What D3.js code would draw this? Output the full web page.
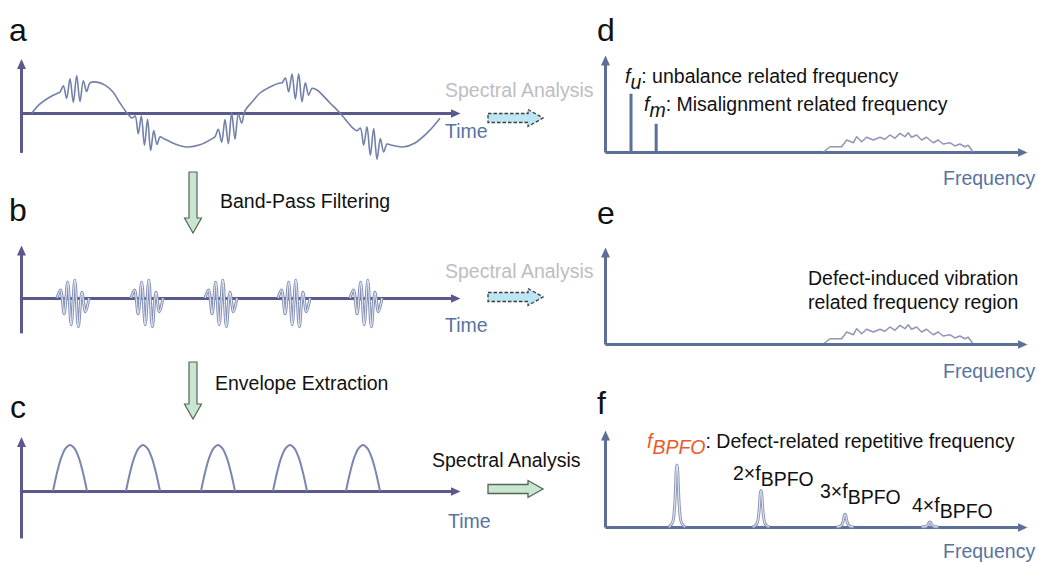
<!DOCTYPE html>
<html>
<head>
<meta charset="UTF-8">
<title>Bearing vibration: band-pass, envelope and spectra</title>
<script src="https://cdn.jsdelivr.net/npm/d3@7"></script>
<style>
    body { margin: 0; background: #fff; }
    text { font-family: "Liberation Sans", Arial, Helvetica, sans-serif; }
    .panel-label { font-size: 32px; fill: #111; }
    .axis-name { font-size: 19.5px; fill: #5873a2; }
    .note { font-size: 19.5px; fill: #111; }
    .faded { font-size: 19.5px; fill: #bdbdc3; }
</style>
</head>
<body>
<svg id="fig" width="1038" height="562"></svg>

<script>
    // ---------- values ----------
    // time in arbitrary units (0..43), amplitude in arbitrary units

    // a: shaft-rate carrier, [t] and [amplitude]
    var carrierT = [1.1, 1.9, 2.9, 3.7, 4.5, 5.4, 6.4, 7.6, 8.4, 9.2, 9.9, 10.6, 11.5, 12.5, 13.4, 14.2, 15.4, 16.6,
        17.9, 19.2, 20.2, 21.2, 22.2, 23.1, 23.9, 24.9, 25.9, 26.8, 27.8, 28.7, 29.6, 30.9, 31.9, 33.2, 34.2, 35.2,
        36.1, 36.9, 38.2, 39.4, 40.7, 41.9];
    var carrierV = [0, 0.3, 0.53, 0.66, 0.78, 0.88, 0.97, 1.02, 0.92, 0.69, 0.33, 0, -0.3, -0.55, -0.72, -0.83, -1.02, -1.12,
        -1.05, -0.83, -0.6, -0.33, 0, 0.36, 0.66, 0.86, 0.99, 1.0, 0.95, 0.86, 0.76, 0.33, 0, -0.5, -0.72, -0.88,
        -0.98, -1.05, -1.12, -0.99, -0.63, -0.17];

    // impact bursts riding on the carrier
    var burstCenterA = [5.4, 12.5, 20.9, 27.6, 35.1];
    var burstWidthA = [3.0, 2.8, 3.0, 3.0, 3.0];
    var burstAmpA = [0.55, 0.6, 0.6, 0.55, 0.6];

    // one burst, normalised samples across its width
    var burstShape = [0, 0.28, -0.55, 0.55, -0.93, 0.62, -1, 0.2, -0.48, 0];

    // b: band-pass filtered bursts
    var burstCenterB = [5.2, 12.6, 20.0, 27.3, 34.5];
    var burstWidthB = 3.2;
    var burstAmpB = 0.95;

    // c: envelope humps
    var humpCenterC = [4.9, 12.2, 19.7, 26.9, 34.2];
    var humpWidthC = 3.4;
    var humpAmpC = 1.52;
    var humpShape = [0, 0.42, 0.74, 0.93, 1, 0.93, 0.74, 0.42, 0];

    // d: rotor spikes (frequency 0..100, amplitude 0..1)
    var spikeFreqD = [6.25, 12.3];
    var spikeAmpD = [0.64, 0.31];

    // d, e: broadband defect-induced region
    var noiseFreq = [52.5, 54.1, 56.9, 58.1, 59.7, 60.5, 61.7, 62.9, 64.5, 66.1, 67.3, 68.5, 69.7, 70.9, 72.1,
        72.9, 73.7, 74.9, 76.1, 77.3, 78.9, 80.1, 81.3, 82.9, 84.1, 85.3, 86.5, 87.3, 88.5];
    var noiseAmp = [0, 0.058, 0.058, 0.132, 0.102, 0.168, 0.113, 0.162, 0.132, 0.162, 0.14, 0.187, 0.151, 0.205, 0.168,
        0.212, 0.162, 0.187, 0.132, 0.162, 0.102, 0.132, 0.088, 0.102, 0.066, 0.088, 0.058, 0.074, 0];

    // f: envelope spectrum, BPFO and harmonics
    var peakFreqF = [17.3, 37.5, 57.7, 78.1];
    var peakAmpF = [0.68, 0.40, 0.14, 0.055];
    var peakLabelF = ["", "2×f", "3×f", "4×f"];
    var peakOffset = [-2.0, -1.45, -0.95, -0.6, -0.36, -0.17, 0, 0.17, 0.36, 0.6, 0.95, 1.45, 2.0];
    var peakShape = [0, 0.03, 0.1, 0.3, 0.6, 0.92, 1, 0.92, 0.6, 0.3, 0.1, 0.03, 0];

    // ---------- drawing ----------
    var leftAxisColor = "#5a598c", rightAxisColor = "#5b6f98";
    var svg = d3.select("#fig");
    var defs = svg.append("defs");

    function arrowMarker(id, color) {
        defs.append("marker")
            .attr("id", id)
            .attr("viewBox", "0 0 10 10")
            .attr("refX", 4).attr("refY", 5)
            .attr("markerWidth", 10).attr("markerHeight", 10)
            .attr("markerUnits", "userSpaceOnUse")
            .attr("orient", "auto")
            .append("path")
            .attr("d", "M0,0.5L10,5L0,9.5Z")
            .attr("fill", color);
    }
    arrowMarker("headL", leftAxisColor);
    arrowMarker("headR", rightAxisColor);

    function drawAxes(x, y, color, marker) {
        var g = svg.append("g");
        var xa = g.append("g")
            .attr("transform", "translate(0," + y(0) + ")")
            .call(d3.axisBottom(x).tickValues([]).tickSizeOuter(0));
        var ya = g.append("g")
            .attr("transform", "translate(" + x(0) + ",0)")
            .call(d3.axisLeft(y).tickValues([]).tickSizeOuter(0));
        [xa, ya].forEach(function (a) {
            a.select(".domain")
                .attr("stroke", color)
                .attr("stroke-width", 3)
                .attr("marker-end", "url(#" + marker + ")");
        });
    }

    function label(x, y, txt, cls) {
        return svg.append("text").attr("x", x).attr("y", y).attr("class", cls).text(txt);
    }

    // text with subscripts: parts = [[text, italic, sub, color]]
    function richText(x, y, parts, cls) {
        var t = svg.append("text").attr("x", x).attr("y", y).attr("class", cls);
        var wasSub = false;
        parts.forEach(function (p) {
            var s = t.append("tspan").text(p[0]);
            if (p[1]) s.attr("font-style", "italic");
            if (p[3]) s.attr("fill", p[3]);
            if (p[2] && !wasSub) s.attr("dy", 6);
            if (!p[2] && wasSub) s.attr("dy", -6);
            wasSub = !!p[2];
        });
        return t;
    }

    var xTime = d3.scaleLinear().domain([0, 43.3]).range([21, 454]);
    function ampScale(axisY, lo, hi) {
        return d3.scaleLinear().domain([lo, hi]).range([axisY - lo * 30.3, axisY - hi * 30.3]);
    }
    var yA = ampScale(113, -1.3, 1.6);
    var yB = ampScale(298, -1.15, 1.55);
    var yC = ampScale(491, -1.55, 1.6);

    var xFreq = d3.scaleLinear().domain([0, 100]).range([605, 1021]);
    function specScale(axisY) {
        return d3.scaleLinear().domain([0, 1]).range([axisY, axisY - 91]);
    }
    var yD = specScale(152), yE = specScale(344), yF = specScale(527);

    var wave = d3.curveCatmullRom.alpha(0.5);

    // ----- panel a -----
    label(9, 41, "a", "panel-label");
    drawAxes(xTime, yA, leftAxisColor, "headL");

    var carrierAt = d3.scaleLinear().domain(carrierT).range(carrierV);
    function burstPoints(center, width, amp, base) {
        var n = burstShape.length;
        return burstShape.map(function (s, i) {
            var t = center - width / 2 + i * width / (n - 1);
            return [t, base(t) + amp * s];
        });
    }
    var ptsA = [];
    carrierT.forEach(function (t, i) {
        var inside = burstCenterA.some(function (c, k) {
            return Math.abs(t - c) < burstWidthA[k] / 2 + 0.15;
        });
        if (!inside) ptsA.push([t, carrierV[i]]);
    });
    burstCenterA.forEach(function (c, k) {
        ptsA = ptsA.concat(burstPoints(c, burstWidthA[k], burstAmpA[k], carrierAt));
    });
    ptsA.sort(function (p, q) { return p[0] - q[0]; });

    svg.append("path")
        .datum(ptsA)
        .attr("fill", "none")
        .attr("stroke", "#7380aa")
        .attr("stroke-width", 1.6)
        .attr("d", d3.line().curve(wave)
            .x(function (d) { return xTime(d[0]); })
            .y(function (d) { return yA(d[1]); }));

    label(445, 138, "Time", "axis-name");
    label(445, 97, "Spectral Analysis", "faded");

    // ----- panel b -----
    label(9, 221, "b", "panel-label");
    drawAxes(xTime, yB, leftAxisColor, "headL");
    var zero = function () { return 0; };
    var burstLine = d3.line().curve(wave)
        .x(function (d) { return xTime(d[0]); })
        .y(function (d) { return yB(d[1]); });
    burstCenterB.forEach(function (c) {
        var pts = burstPoints(c, burstWidthB, burstAmpB, zero);
        svg.append("path").datum(pts).attr("fill", "none")
            .attr("stroke", "#8591b6").attr("stroke-width", 3).attr("d", burstLine);
        svg.append("path").datum(pts).attr("fill", "none")
            .attr("stroke", "#eceff7").attr("stroke-width", 1).attr("d", burstLine);
    });
    label(445, 332, "Time", "axis-name");
    label(445, 278, "Spectral Analysis", "faded");

    // ----- panel c -----
    label(10, 418, "c", "panel-label");
    drawAxes(xTime, yC, leftAxisColor, "headL");
    var humpLine = d3.line().curve(wave)
        .x(function (d) { return xTime(d[0]); })
        .y(function (d) { return yC(d[1]); });
    humpCenterC.forEach(function (c) {
        var n = humpShape.length;
        var pts = humpShape.map(function (s, i) {
            return [c - humpWidthC / 2 + i * humpWidthC / (n - 1), humpAmpC * s];
        });
        svg.append("path").datum(pts).attr("fill", "none")
            .attr("stroke", "#7a86ad").attr("stroke-width", 2).attr("d", humpLine);
    });
    label(448, 528, "Time", "axis-name");
    label(432, 467, "Spectral Analysis", "note");

    // ----- arrows between steps -----
    function downArrow(cx, top, headY, tip) {
        svg.append("path")
            .attr("d", "M" + (cx - 4) + "," + top + "H" + (cx + 4) + "V" + headY + "H" + (cx + 8.5) +
                "L" + cx + "," + tip + "L" + (cx - 8.5) + "," + headY + "H" + (cx - 4) + "Z")
            .attr("fill", "#c9e7d0").attr("stroke", "#55655a").attr("stroke-width", 1.2);
    }
    function rightArrow(x0, cy, dashed) {
        var p = svg.append("path")
            .attr("d", "M" + x0 + "," + (cy - 4.5) + "H" + (x0 + 40) + "V" + (cy - 8.5) + "L" + (x0 + 55) + "," + cy +
                "L" + (x0 + 40) + "," + (cy + 8.5) + "V" + (cy + 4.5) + "H" + x0 + "Z")
            .attr("stroke-width", 1.3);
        if (dashed) {
            p.attr("fill", "#bde5f4").attr("stroke", "#3c3c3c").attr("stroke-dasharray", "3.5,2");
        } else {
            p.attr("fill", "#c9e7d0").attr("stroke", "#55655a");
        }
    }
    downArrow(193, 172, 218, 233);
    label(220, 208, "Band-Pass Filtering", "note");
    downArrow(193, 362, 404, 419);
    label(215, 390, "Envelope Extraction", "note");
    rightArrow(488, 118, true);
    rightArrow(488, 297, true);
    rightArrow(488, 489, false);

    // ----- panel d -----
    label(597, 41, "d", "panel-label");
    drawAxes(xFreq, yD, rightAxisColor, "headR");
    svg.selectAll(".spike")
        .data(spikeFreqD)
        .enter().append("line")
        .attr("class", "spike")
        .attr("x1", function (d) { return xFreq(d); })
        .attr("x2", function (d) { return xFreq(d); })
        .attr("y1", yD(0))
        .attr("y2", function (d, i) { return yD(spikeAmpD[i]); })
        .attr("stroke", rightAxisColor)
        .attr("stroke-width", 3);

    var noiseLine = function (y) {
        return d3.line()
            .x(function (d, i) { return xFreq(noiseFreq[i]); })
            .y(function (d) { return y(d); });
    };
    [yD, yE].forEach(function (y) {
        svg.append("path").datum(noiseAmp).attr("fill", "none")
            .attr("stroke", "#8e97b6").attr("stroke-width", 1.5)
            .attr("stroke-linejoin", "round")
            .attr("d", noiseLine(y));
    });
    richText(625, 83, [["f", true], ["u", true, true], [": unbalance related frequency"]], "note");
    richText(644, 111, [["f", true], ["m", true, true], [": Misalignment related frequency"]], "note");
    label(943, 185, "Frequency", "axis-name");

    // ----- panel e -----
    label(597, 224, "e", "panel-label");
    drawAxes(xFreq, yE, rightAxisColor, "headR");
    label(808, 285, "Defect-induced vibration", "note");
    label(808, 309, "related frequency region", "note");
    label(943, 378, "Frequency", "axis-name");

    // ----- panel f -----
    label(597, 414, "f", "panel-label");
    drawAxes(xFreq, yF, rightAxisColor, "headR");
    var peakLine = d3.line().curve(wave)
        .x(function (d) { return xFreq(d[0]); })
        .y(function (d) { return yF(d[1]); });
    peakFreqF.forEach(function (f, k) {
        var pts = peakOffset.map(function (o, i) { return [f + o, peakAmpF[k] * peakShape[i]]; });
        svg.append("path").datum(pts).attr("fill", "none")
            .attr("stroke", "#8d98b9").attr("stroke-width", 3).attr("d", peakLine);
        svg.append("path").datum(pts).attr("fill", "none")
            .attr("stroke", "#eef0f7").attr("stroke-width", 1).attr("d", peakLine);
    });
    var orange = "#ec5a2a";
    richText(647, 448, [["f", true, false, orange], ["BPFO", true, true, orange],
        [": Defect-related repetitive frequency"]], "note");
    var harmonicX = [0, 733, 820, 912], harmonicY = [0, 480, 498, 512];
    peakLabelF.forEach(function (txt, k) {
        if (!txt) return;
        richText(harmonicX[k], harmonicY[k], [[txt], ["BPFO", false, true]], "note");
    });
    label(943, 558, "Frequency", "axis-name");
</script>
</body>
</html>
